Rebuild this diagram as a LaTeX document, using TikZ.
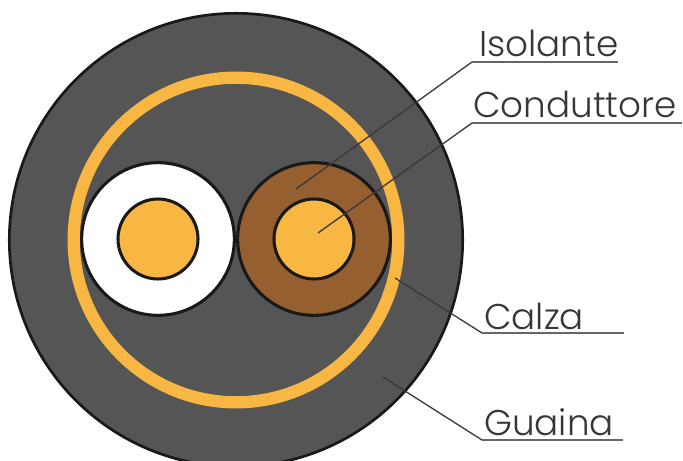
\documentclass[tikz,border=0pt]{standalone}
\usepackage{fontspec}
\setmainfont{Poppins Light}
\usetikzlibrary{positioning}
\definecolor{guainagrey}{RGB}{85,85,85}
\definecolor{calzaorange}{RGB}{248,182,66}
\definecolor{isolbrown}{RGB}{150,95,48}
\definecolor{outlineblack}{RGB}{25,25,25}
\definecolor{labeltext}{RGB}{55,55,55}
\tikzset{
  sheath/.style={circle, draw=outlineblack, fill=guainagrey, line width=2.3pt,
                 minimum size=13.6cm, inner sep=0pt},
  braid/.style={circle, draw=calzaorange, line width=10.5pt,
                minimum size=9.74cm, inner sep=0pt},
  insul/.style={circle, draw=outlineblack, line width=2.6pt,
                minimum size=4.58cm, inner sep=0pt},
  core/.style={circle, draw=outlineblack, fill=calzaorange, line width=2.6pt,
               minimum size=2.4cm, inner sep=0pt},
  leader/.style={line width=1.1pt, black!78},
  rule/.style={line width=1.5pt, black!60},
  tag/.style={anchor=base west, inner sep=0pt, text=labeltext, font=\fontsize{30.5}{31}\selectfont},
}
\begin{document}
\begin{tikzpicture}[x=0.03cm, y=-0.03cm]
\clip (0,0) rectangle (683,461);
\fill[white] (0,0) rectangle (683,461);
% cable section
\node[sheath] (guaina) at (236,240) {};
\node[braid] (calza) at (236,240) {};
\node[insul, fill=white] (isolA) at (158,239) {};
\node[core] (condA) at (158,239) {};
\node[insul, fill=isolbrown] (isolB) at (314,239) {};
\node[core] (condB) at (314,239) {};
% labels
\node[tag] (isolante) at (479,57) {Isolante};
\node[tag] (conduttore) at (473,118) {Conduttore};
\node[tag] (calzatxt) at (484,329) {Calza};
\node[tag] (guainatxt) at (484,435) {Guaina};
% leaders
\coordinate (tipA) at (296,189); \coordinate (kneeA) at (472,62); \coordinate (endA) at (618,62);
\coordinate (tipB) at (318,233); \coordinate (kneeB) at (472,123); \coordinate (endB) at (682,123);
\coordinate (tipC) at (395,278); \coordinate (kneeC) at (482,333); \coordinate (endC) at (624,333);
\coordinate (tipD) at (383,377); \coordinate (kneeD) at (482,440); \coordinate (endD) at (623,440);
\draw[leader] (tipA) -- (kneeA); \draw[rule] (kneeA) -- (endA);
\draw[leader] (tipB) -- (kneeB); \draw[rule] (kneeB) -- (endB);
\draw[leader] (tipC) -- (kneeC); \draw[rule] (kneeC) -- (endC);
\draw[leader] (tipD) -- (kneeD); \draw[rule] (kneeD) -- (endD);
\end{tikzpicture}
\end{document}
